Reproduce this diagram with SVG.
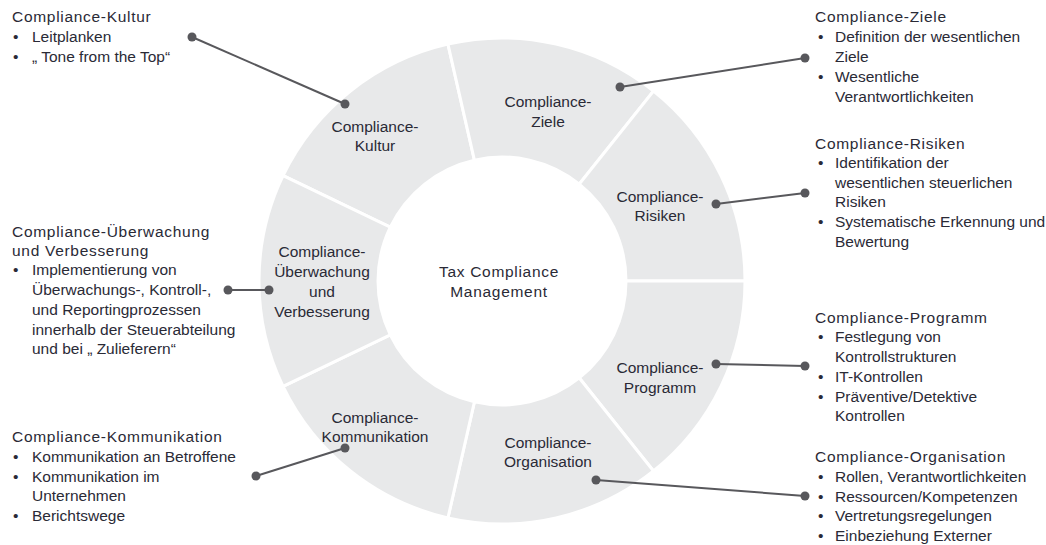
<svg xmlns="http://www.w3.org/2000/svg" width="1046" height="545" viewBox="0 0 1046 545">
  <style>
    text { font-family: "Liberation Sans", "Noto Sans", sans-serif; font-size: 15.5px; fill: #2a2a36; }
    .seg { fill: #e8e9ea; stroke: #ffffff; stroke-width: 3; stroke-linejoin: miter; }
    .lbl { text-anchor: middle; }
    .hub { text-anchor: middle; letter-spacing: 0.7px; }
    .head { letter-spacing: 0.7px; }
    .conn line { stroke: #58585c; stroke-width: 2; }
    .conn circle { fill: #58585c; }
  </style>

  <!-- ring of seven compliance elements -->
  <g id="seg-kultur">
    <path class="seg" d="M283.06,175.57 A243,243 0 0 1 447.93,44.09 L474.41,160.11 A124,124 0 0 0 390.28,227.20 Z"/>
    <text class="lbl" x="375" y="132">Compliance-</text>
    <text class="lbl" x="375" y="151">Kultur</text>
  </g>
  <g id="seg-ziele">
    <path class="seg" d="M447.93,44.09 A243,243 0 0 1 653.51,91.02 L579.31,184.05 A124,124 0 0 0 474.41,160.11 Z"/>
    <text class="lbl" x="548" y="107">Compliance-</text>
    <text class="lbl" x="548" y="127">Ziele</text>
  </g>
  <g id="seg-risiken">
    <path class="seg" d="M653.51,91.02 A243,243 0 0 1 745,281 L626,281 A124,124 0 0 0 579.31,184.05 Z"/>
    <text class="lbl" x="660" y="202">Compliance-</text>
    <text class="lbl" x="660" y="221">Risiken</text>
  </g>
  <g id="seg-programm">
    <path class="seg" d="M745,281 A243,243 0 0 1 653.51,470.98 L579.31,377.95 A124,124 0 0 0 626,281 Z"/>
    <text class="lbl" x="660" y="373">Compliance-</text>
    <text class="lbl" x="660" y="393">Programm</text>
  </g>
  <g id="seg-organisation">
    <path class="seg" d="M653.51,470.98 A243,243 0 0 1 447.93,517.91 L474.41,401.89 A124,124 0 0 0 579.31,377.95 Z"/>
    <text class="lbl" x="548" y="448">Compliance-</text>
    <text class="lbl" x="548" y="467">Organisation</text>
  </g>
  <g id="seg-kommunikation">
    <path class="seg" d="M447.93,517.91 A243,243 0 0 1 283.06,386.43 L390.28,334.80 A124,124 0 0 0 474.41,401.89 Z"/>
    <text class="lbl" x="375" y="423">Compliance-</text>
    <text class="lbl" x="375" y="442">Kommunikation</text>
  </g>
  <g id="seg-ueberwachung">
    <path class="seg" d="M283.06,386.43 A243,243 0 0 1 283.06,175.57 L390.28,227.20 A124,124 0 0 0 390.28,334.80 Z"/>
    <text class="lbl" x="322" y="257">Compliance-</text>
    <text class="lbl" x="322" y="277">Überwachung</text>
    <text class="lbl" x="322" y="297">und</text>
    <text class="lbl" x="322" y="317">Verbesserung</text>
  </g>

  <g id="hub">
    <text class="hub" x="499" y="277">Tax Compliance</text>
    <text class="hub" x="499" y="297">Management</text>
  </g>

  <!-- leader lines with end dots -->
  <g id="connectors" class="conn">
    <line x1="192" y1="37" x2="345" y2="104"/>
    <circle cx="192" cy="37" r="4.5"/><circle cx="345" cy="104" r="4.5"/>
    <line x1="620" y1="87" x2="805" y2="58"/>
    <circle cx="620" cy="87" r="4.5"/><circle cx="805" cy="58" r="4.5"/>
    <line x1="716" y1="204" x2="805" y2="193"/>
    <circle cx="716" cy="204" r="4.5"/><circle cx="805" cy="193" r="4.5"/>
    <line x1="716" y1="364" x2="805" y2="366"/>
    <circle cx="716" cy="364" r="4.5"/><circle cx="805" cy="366" r="4.5"/>
    <line x1="596" y1="480" x2="805" y2="496"/>
    <circle cx="596" cy="480" r="4.5"/><circle cx="805" cy="496" r="4.5"/>
    <line x1="228" y1="290" x2="269" y2="290"/>
    <circle cx="228" cy="290" r="4.5"/><circle cx="269" cy="290" r="4.5"/>
    <line x1="345" y1="448" x2="256" y2="476"/>
    <circle cx="345" cy="448" r="4.5"/><circle cx="256" cy="476" r="4.5"/>
  </g>

  <!-- description blocks, left side -->
  <g id="desc-kultur">
    <text class="head" x="12" y="22">Compliance-Kultur</text>
    <text x="13" y="42">•</text><text x="32" y="42">Leitplanken</text>
    <text x="13" y="62">•</text><text x="32" y="62">„ Tone from the Top“</text>
  </g>
  <g id="desc-ueberwachung">
    <text class="head" x="12" y="237">Compliance-Überwachung</text>
    <text class="head" x="12" y="256">und Verbesserung</text>
    <text x="13" y="275">•</text><text x="32" y="275">Implementierung von</text>
    <text x="32" y="295">Überwachungs-, Kontroll-,</text>
    <text x="32" y="315">und Reportingprozessen</text>
    <text x="32" y="335">innerhalb der Steuerabteilung</text>
    <text x="32" y="354">und bei „ Zulieferern“</text>
  </g>
  <g id="desc-kommunikation">
    <text class="head" x="12" y="442">Compliance-Kommunikation</text>
    <text x="13" y="462">•</text><text x="32" y="462">Kommunikation an Betroffene</text>
    <text x="13" y="482">•</text><text x="32" y="482">Kommunikation im</text>
    <text x="32" y="501">Unternehmen</text>
    <text x="13" y="521">•</text><text x="32" y="521">Berichtswege</text>
  </g>

  <!-- description blocks, right side -->
  <g id="desc-ziele">
    <text class="head" x="815" y="22">Compliance-Ziele</text>
    <text x="818" y="42">•</text><text x="835" y="42">Definition der wesentlichen</text>
    <text x="835" y="62">Ziele</text>
    <text x="818" y="82">•</text><text x="835" y="82">Wesentliche</text>
    <text x="835" y="102">Verantwortlichkeiten</text>
  </g>
  <g id="desc-risiken">
    <text class="head" x="815" y="149">Compliance-Risiken</text>
    <text x="818" y="168">•</text><text x="835" y="168">Identifikation der</text>
    <text x="835" y="188">wesentlichen steuerlichen</text>
    <text x="835" y="207">Risiken</text>
    <text x="818" y="227">•</text><text x="835" y="227">Systematische Erkennung und</text>
    <text x="835" y="247">Bewertung</text>
  </g>
  <g id="desc-programm">
    <text class="head" x="815" y="323">Compliance-Programm</text>
    <text x="818" y="342">•</text><text x="835" y="342">Festlegung von</text>
    <text x="835" y="362">Kontrollstrukturen</text>
    <text x="818" y="382">•</text><text x="835" y="382">IT-Kontrollen</text>
    <text x="818" y="402">•</text><text x="835" y="402">Präventive/Detektive</text>
    <text x="835" y="421">Kontrollen</text>
  </g>
  <g id="desc-organisation">
    <text class="head" x="815" y="462">Compliance-Organisation</text>
    <text x="818" y="482">•</text><text x="835" y="482">Rollen, Verantwortlichkeiten</text>
    <text x="818" y="502">•</text><text x="835" y="502">Ressourcen/Kompetenzen</text>
    <text x="818" y="521">•</text><text x="835" y="521">Vertretungsregelungen</text>
    <text x="818" y="541">•</text><text x="835" y="541">Einbeziehung Externer</text>
  </g>
</svg>
